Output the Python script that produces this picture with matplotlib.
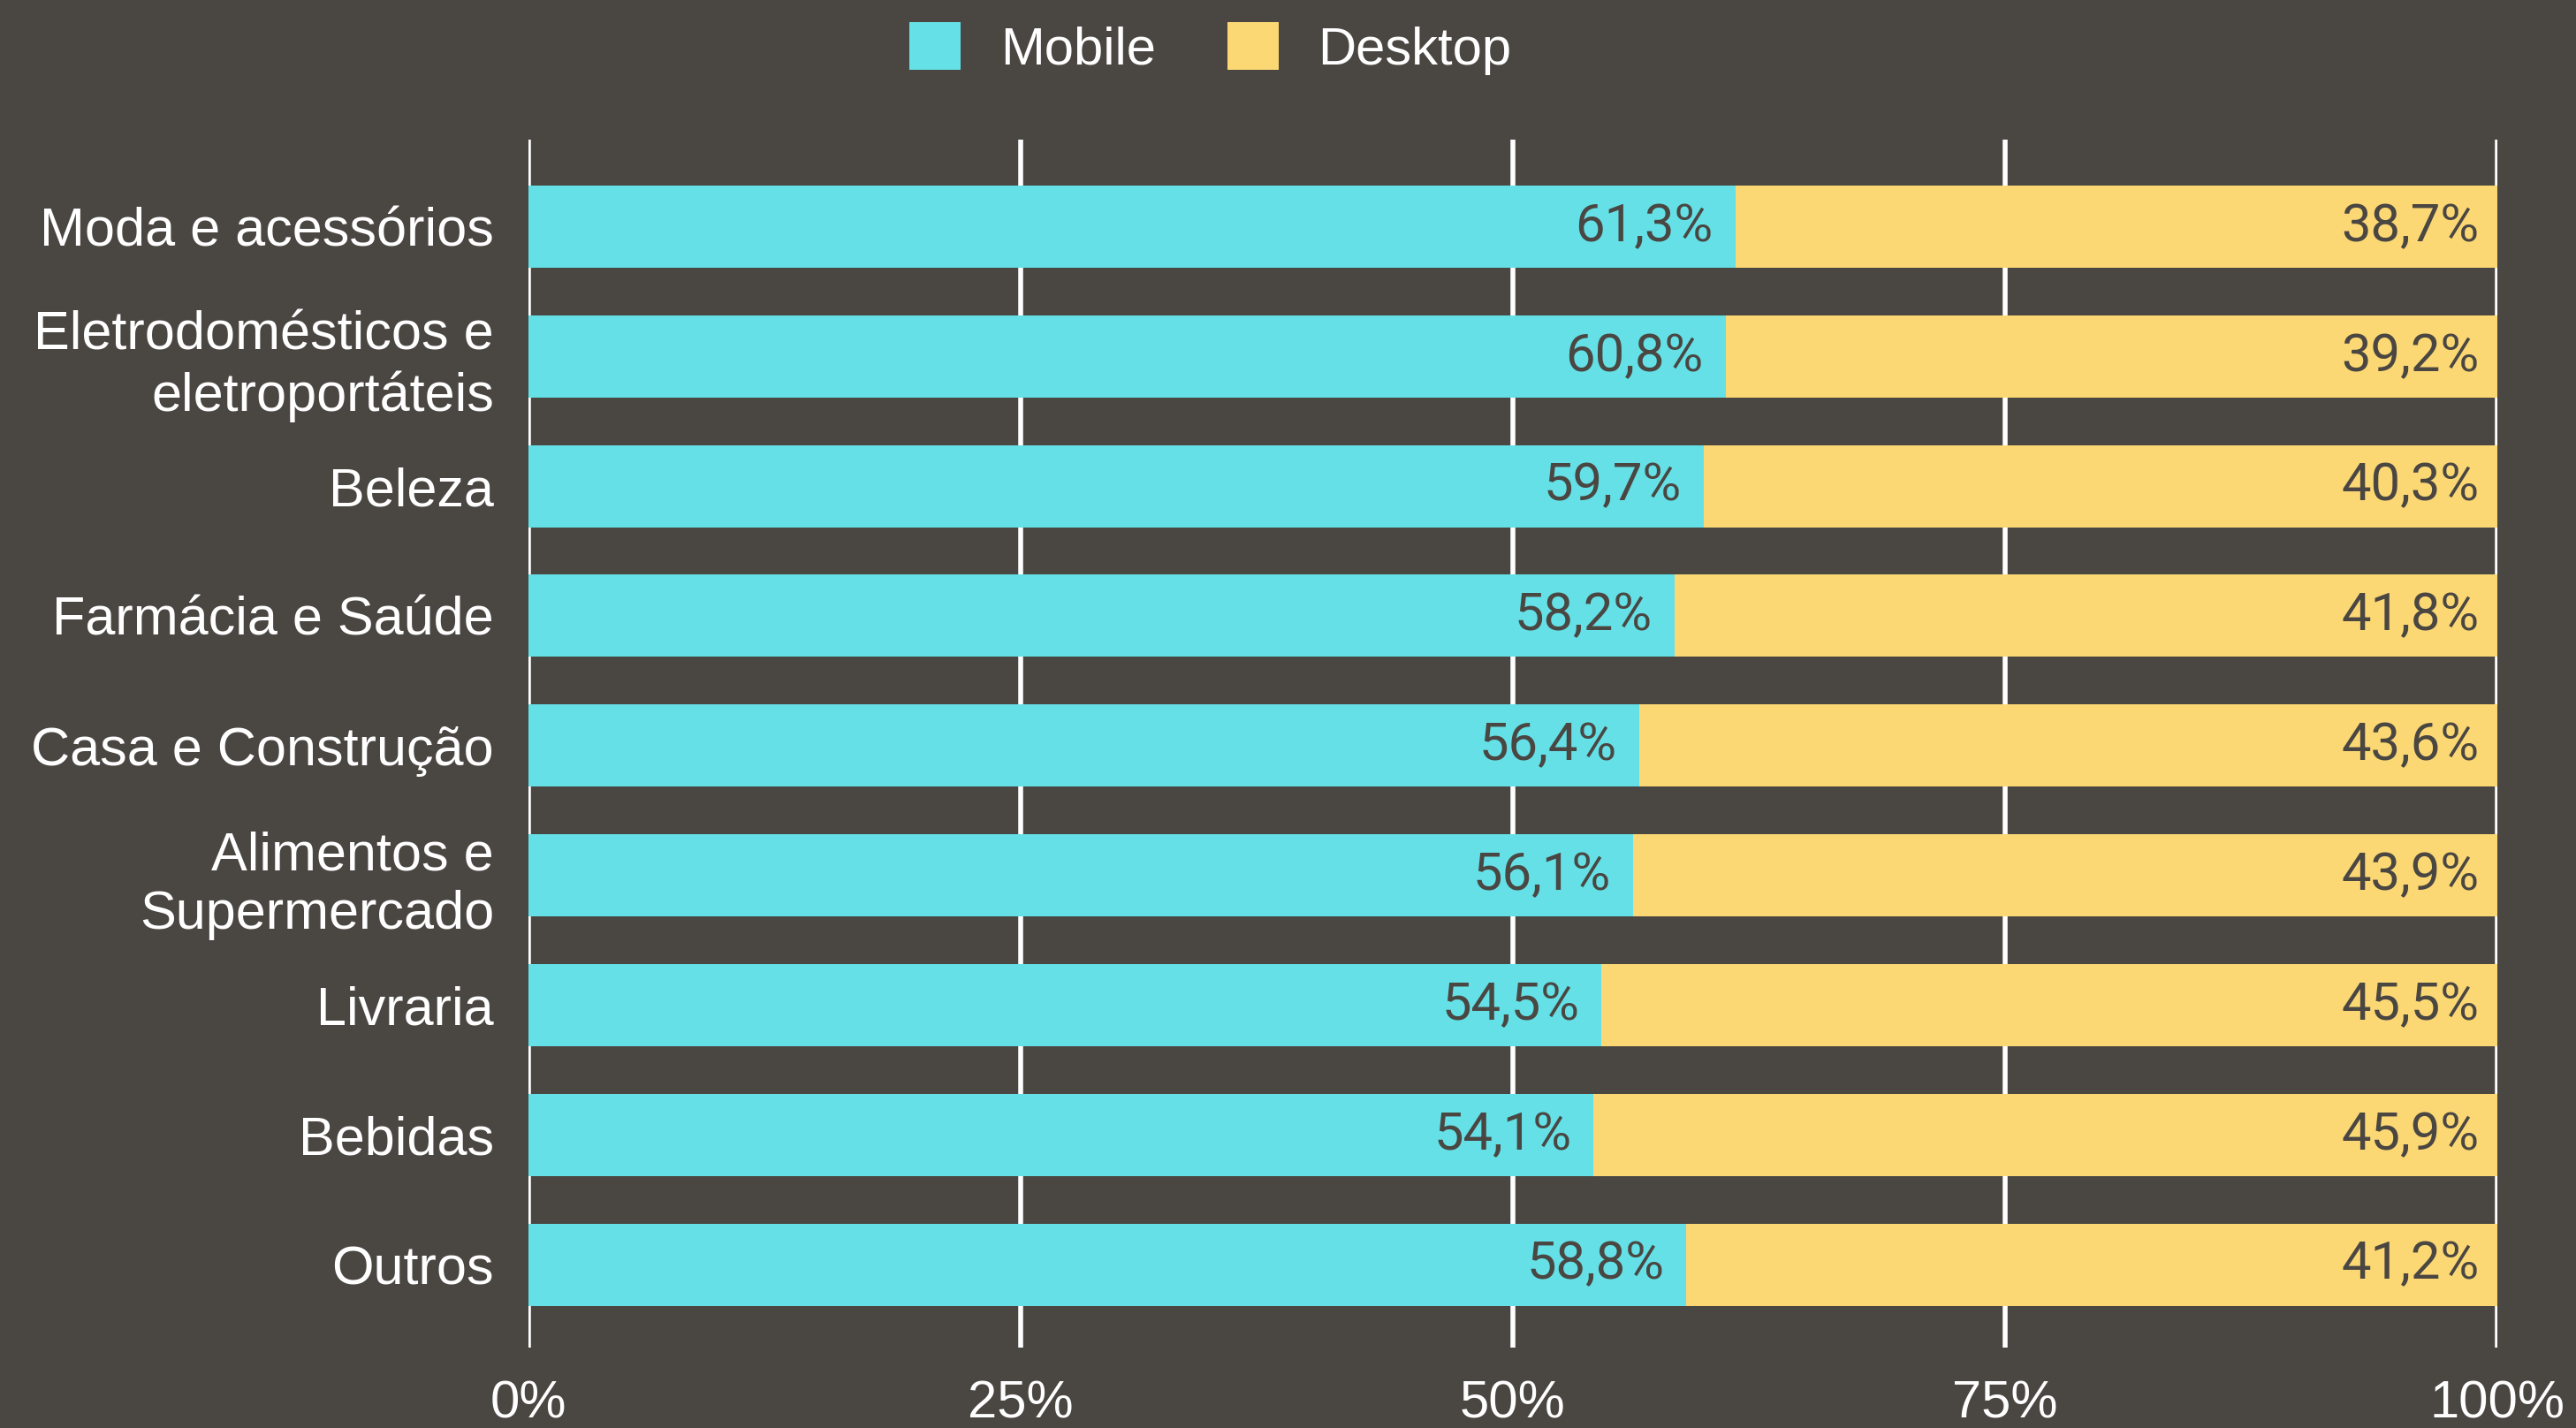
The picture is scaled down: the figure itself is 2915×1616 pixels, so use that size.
import matplotlib
matplotlib.use("Agg")
import matplotlib.pyplot as plt
import numpy as np

categories = ["Moda e acessórios", "Eletrodomésticos e\neletroportáteis", "Beleza",
              "Farmácia e Saúde", "Casa e Construção", "Alimentos e\nSupermercado",
              "Livraria", "Bebidas", "Outros"]
mobile = [61.3, 60.8, 59.7, 58.2, 56.4, 56.1, 54.5, 54.1, 58.8]
desktop = [38.7, 39.2, 40.3, 41.8, 43.6, 43.9, 45.5, 45.9, 41.2]
xticks = [0, 25, 50, 75, 100]
xticklabels = ["0%", "25%", "50%", "75%", "100%"]

BG = "#4A4642"
CYAN = "#64E0E6"
YELLOW = "#FCD874"
WHITE = "#FFFFFF"
FS = 21.5

plt.rcParams['font.family'] = ['Liberation Sans', 'DejaVu Sans']

fig = plt.figure(figsize=(14.575, 8.08), dpi=200, facecolor=BG)
ax = fig.add_axes([0.2051, 0.0563, 0.7644, 0.8459])
ax.set_facecolor(BG)

y = np.arange(len(categories))
h = 0.634
b1 = ax.barh(y, mobile, height=h, color=CYAN, label="Mobile", zorder=3)
b2 = ax.barh(y, desktop, left=mobile, height=h, color=YELLOW, label="Desktop", zorder=3)

fmt = lambda v: f"{v:.1f}%".replace(".", ",")
for yi, m, d in zip(y, mobile, desktop):
    ax.annotate(fmt(m), (m, yi), xytext=(-9, 0), textcoords="offset points",
                ha="right", va="center", fontsize=FS, color=BG, zorder=4,
                family=['Roboto', 'DejaVu Sans'])
    ax.annotate(fmt(d), (m + d, yi), xytext=(-7.5, 0), textcoords="offset points",
                ha="right", va="center", fontsize=FS, color=BG, zorder=4,
                family=['Roboto', 'DejaVu Sans'])

ax.set_xlim(0, 100)
ax.set_ylim(len(categories) - 1 + 0.64, -0.67)
ax.set_yticks(y)
ax.set_yticklabels(categories, fontsize=22, color=WHITE, linespacing=1.22)
ax.set_xticks(xticks)
ax.set_xticklabels(xticklabels, fontsize=FS, color=WHITE)
ax.tick_params(axis="both", length=0)
ax.tick_params(axis="y", pad=14)
ax.tick_params(axis="x", pad=13)
for s in ax.spines.values():
    s.set_visible(False)
ax.xaxis.grid(True, color=WHITE, linewidth=2.0, zorder=1)
ax.set_axisbelow(True)
for gl in ax.get_xgridlines():
    gl.set_solid_capstyle("round")

leg = fig.legend(handles=[b1, b2], labels=["Mobile", "Desktop"], loc="center",
                 bbox_to_anchor=(0.470, 0.966), ncol=2, frameon=False,
                 fontsize=FS, handlelength=0.97, handleheight=1.0,
                 handletextpad=0.75, columnspacing=1.35, labelcolor=WHITE)

fig.savefig("out.png", dpi=200, facecolor=BG)
